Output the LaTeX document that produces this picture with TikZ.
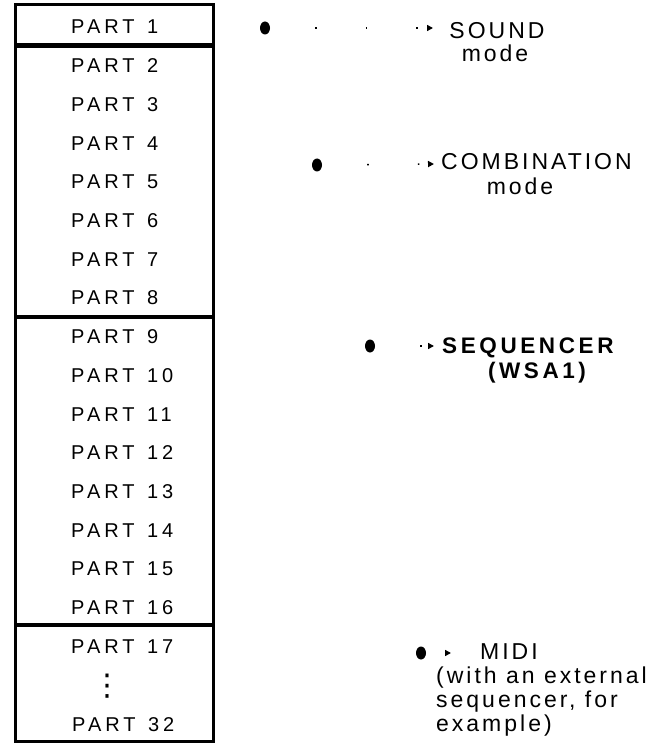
\documentclass[tikz,border=0pt]{standalone}
\usepackage{fontspec}
\setmainfont{Liberation Sans}
\usetikzlibrary{arrows.meta,shapes.geometric}
\newfontfamily\partfont[LetterSpace=20,WordSpace=1.3]{Liberation Sans}
\newfontfamily\labfont[LetterSpace=13]{Liberation Sans}
\newfontfamily\boldfont[LetterSpace=16]{Liberation Sans}
\newfontfamily\symfont{DejaVu Sans}
\tikzset{
  frame/.style={line width=3pt},
  partlbl/.style={anchor=base west, inner sep=0pt, font=\partfont\fontsize{20}{23}\selectfont},
  lbl/.style={inner sep=0pt, font=\labfont\fontsize{23}{24}\selectfont},
  boldlbl/.style={lbl, font=\boldfont\bfseries\fontsize{22.5}{24}\selectfont},
  bul/.style={ellipse, fill=black, minimum width=10pt, minimum height=13pt, inner sep=0pt},
  dotconn/.style={line width=1.6pt, dash pattern=on 0pt off 44pt on 1.6pt off 5pt,
     -{Triangle[length=6pt,width=6pt]}, shorten <=1pt}
}
\begin{document}
\begin{tikzpicture}[x=1pt,y=1pt]
\useasboundingbox (0,0) rectangle (659,-743);
% boxes
\draw[frame] (15,-5) rectangle (213,-45);
\draw[frame] (15,-46.5) rectangle (213,-316.5);
\draw[frame] (15,-317) rectangle (213,-624);
\draw[frame] (15,-625) rectangle (213,-741.5);
% part labels
\foreach \k in {1,...,17}{
  \node[partlbl] (p\k) at (71,{-34-(\k-1)*38.7}) {PART \k};
}
\node[inner sep=0pt, font=\symfont\fontsize{30}{30}\selectfont] (pdots) at (107.5,-686) {⋮};
\node[partlbl] (p32) at (72,-731) {PART 32};
% SOUND
\node[bul] (b1) at (265,-28) {};
\coordinate (t1) at (433,-28);
\draw[dotconn] (b1) -- (t1);
\node[lbl, anchor=base] (sound) at (497,-39) {SOUND};
\node[lbl, anchor=base] (sound2) at (495,-62) {mode};
% COMBINATION
\node[bul] (b2) at (317,-165) {};
\coordinate (t2) at (434,-164);
\draw[dotconn] (b2) -- (t2);
\node[lbl, anchor=base west] (comb) at (441,-170) {COMBINATION};
\node[lbl, anchor=base] (comb2) at (520,-195) {mode};
% SEQUENCER
\node[bul] (b3) at (370,-346) {};
\coordinate (t3) at (434,-346);
\draw[dotconn] (b3) -- (t3);
\node[boldlbl, anchor=base west] (seq) at (442,-353) {SEQUENCER};
\node[boldlbl, anchor=base] (seq2) at (537,-378) {(WSA1)};
% MIDI
\node[bul] (b4) at (421,-653) {};
\coordinate (t4) at (451,-653);
\draw[dotconn] (b4) -- (t4);
\node[lbl, anchor=base west] (midi) at (480,-659) {MIDI};
\node[lbl, anchor=base west] (midi2) at (436,-683) {(with an external};
\node[lbl, anchor=base west] (midi3) at (436,-707) {sequencer, for};
\node[lbl, anchor=base west] (midi4) at (436,-731) {example)};
\end{tikzpicture}
\end{document}
